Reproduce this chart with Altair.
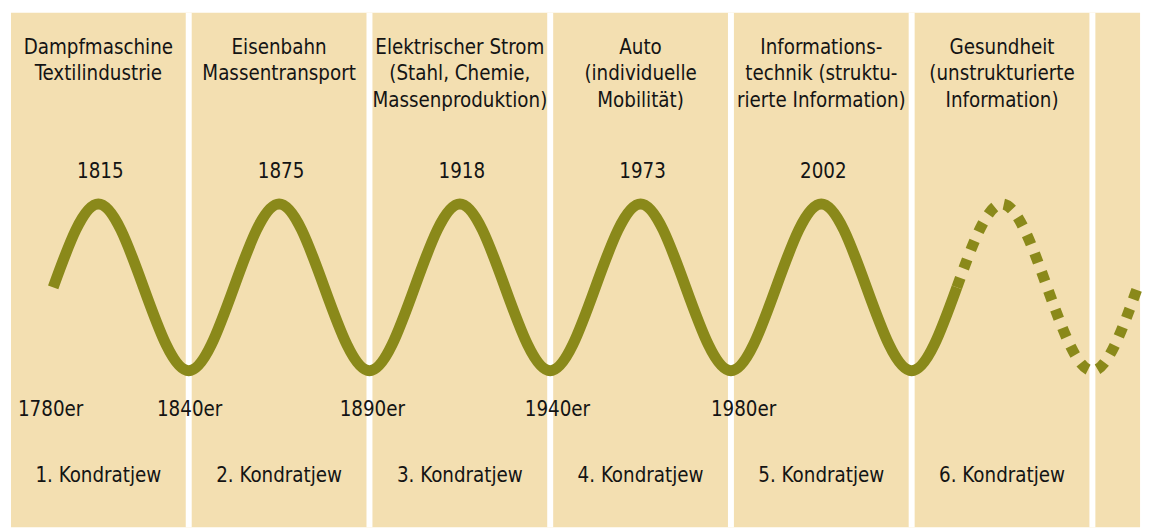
import altair as alt
import pandas as pd

# ---- data ----
headlines = [
    "Dampfmaschine\nTextilindustrie",
    "Eisenbahn\nMassentransport",
    "Elektrischer Strom\n(Stahl, Chemie,\nMassenproduktion)",
    "Auto\n(individuelle\nMobilität)",
    "Informations-\ntechnik (struktu-\nrierte Information)",
    "Gesundheit\n(unstrukturierte\nInformation)",
]
column_center = [0.5, 1.5, 2.5, 3.5, 4.5, 5.5]
kondratjew = ["1. Kondratjew", "2. Kondratjew", "3. Kondratjew",
              "4. Kondratjew", "5. Kondratjew", "6. Kondratjew"]
peak_years = ["1815", "1875", "1918", "1973", "2002"]
peak_x = [0.5, 1.5, 2.5, 3.5, 4.5]
decades = ["1780er", "1840er", "1890er", "1940er", "1980er"]
decade_x = [0.236, 1.005, 2.016, 3.04, 4.07]
separators = [1, 2, 3, 4, 5, 6]

# wave key points (quarter periods): x position and level (+1 peak, -1 trough)
wave_x_solid = [0.25, 0.5, 0.75, 1.0, 1.25, 1.5, 1.75, 2.0, 2.25, 2.5, 2.75,
                3.0, 3.25, 3.5, 3.75, 4.0, 4.25, 4.5, 4.75, 5.0, 5.25]
wave_y_solid = [0, 1, 0, -1, 0, 1, 0, -1, 0, 1, 0,
                -1, 0, 1, 0, -1, 0, 1, 0, -1, 0]
wave_x_dotted = [5.25, 5.5, 5.75, 6.0, 6.25]
wave_y_dotted = [0, 1, 0, -1, 0]

BEIGE = "#F3DFB1"
OLIVE = "#8A891A"
TEXT = "#141414"
FONT = "DejaVu Sans Condensed"
FS = 20.5

W, H = 1150, 521
xs = alt.Scale(domain=[0, W / 182], nice=False, zero=False)
ys = alt.Scale(domain=[-2.875, 3.327], nice=False, zero=False)

bg = alt.Chart(pd.DataFrame({"x": [0.0165], "x2": [6.2637]})).mark_rect(
    color=BEIGE).encode(
    x=alt.X("x:Q", scale=xs, axis=None), x2="x2:Q",
    y=alt.value(3), y2=alt.value(H))

sep = alt.Chart(pd.DataFrame({"x": separators})).mark_rule(
    color="white", strokeWidth=6).encode(
    x=alt.X("x:Q", scale=xs, axis=None), y=alt.value(3), y2=alt.value(H))

solid = alt.Chart(pd.DataFrame({"x": wave_x_solid, "y": wave_y_solid})).mark_line(
    color=OLIVE, strokeWidth=11, interpolate="natural", strokeCap="butt").encode(
    x=alt.X("x:Q", scale=xs, axis=None), y=alt.Y("y:Q", scale=ys, axis=None))

dotted = alt.Chart(pd.DataFrame({"x": wave_x_dotted, "y": wave_y_dotted})).mark_line(
    color=OLIVE, strokeWidth=11, interpolate="natural", strokeCap="butt",
    strokeDash=[10, 10]).encode(
    x=alt.X("x:Q", scale=xs, axis=None), y=alt.Y("y:Q", scale=ys, axis=None))

def text_layer(xvals, texts, ypix, dx=0):
    return alt.Chart(pd.DataFrame({"x": xvals, "t": texts})).mark_text(
        font=FONT, fontSize=FS, color=TEXT, align="center", baseline="alphabetic",
        lineBreak="\n", lineHeight=27, dx=dx).encode(
        x=alt.X("x:Q", scale=xs, axis=None), y=alt.value(ypix), text="t:N")

head = text_layer(column_center, headlines, 44)
years = text_layer(peak_x, peak_years, 169, dx=2)
dec = text_layer(decade_x, decades, 409)
kond = text_layer(column_center, kondratjew, 475)

chart = alt.layer(bg, sep, solid, dotted, head, years, dec, kond).properties(
    width=W, height=H, padding=0, background="white",
    autosize=alt.AutoSizeParams(type="none")
).configure_view(stroke=None)

chart.save("out.html", embed_options={"renderer": "svg", "actions": False})
